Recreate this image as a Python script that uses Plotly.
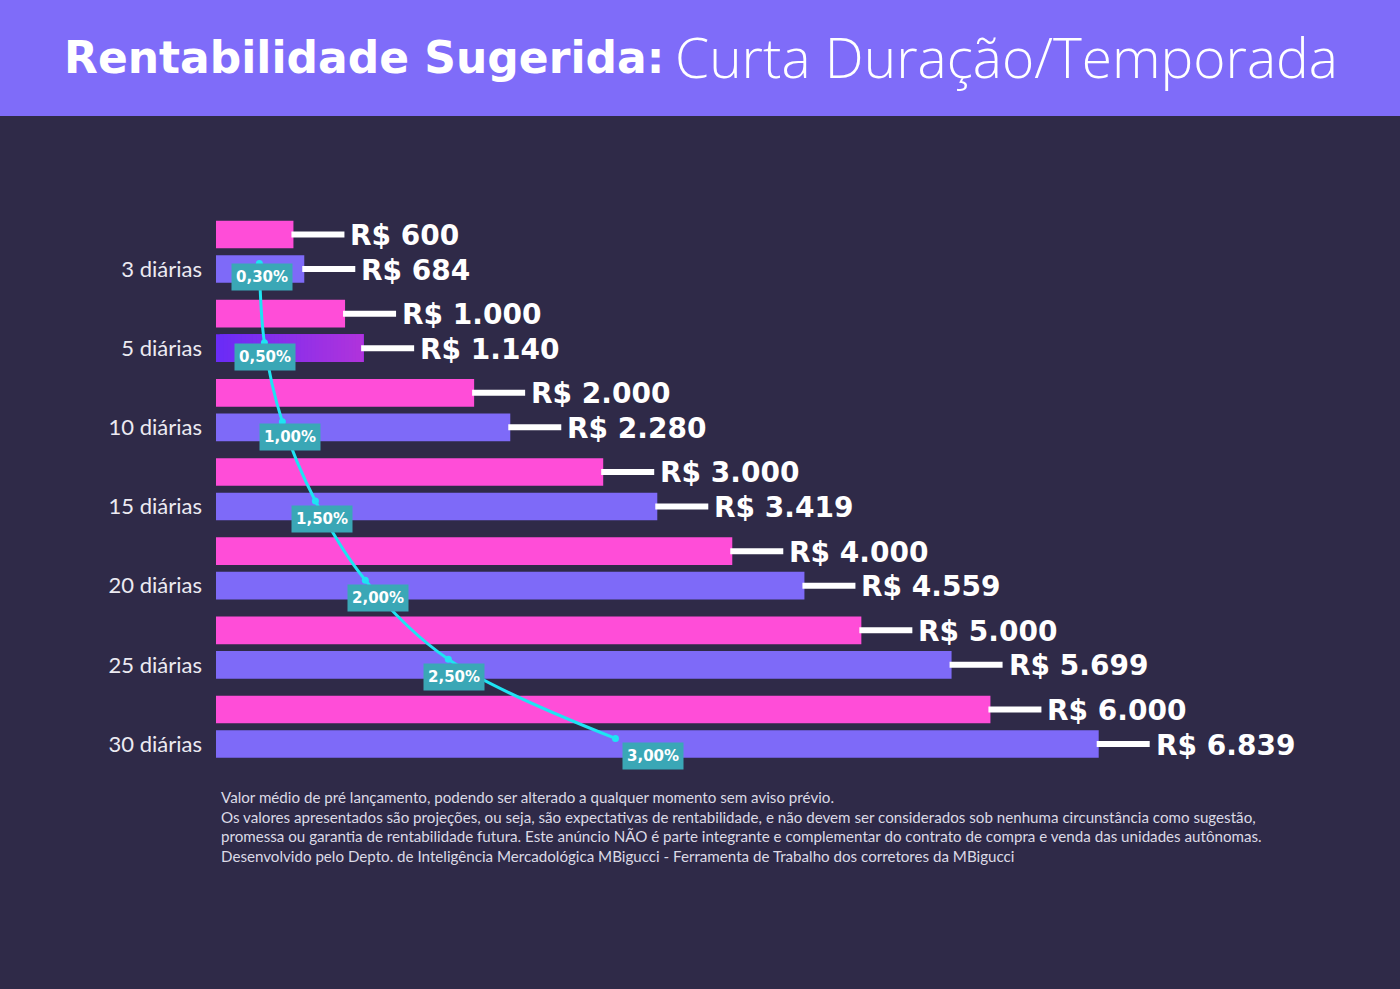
import plotly.graph_objects as go
import numpy as np

# ---------------- data ----------------
categorias = ["3 diárias", "5 diárias", "10 diárias", "15 diárias",
              "20 diárias", "25 diárias", "30 diárias"]
valor_base = [600, 1000, 2000, 3000, 4000, 5000, 6000]
valor_sugerido = [684, 1140, 2280, 3419, 4559, 5699, 6839]
percentuais = [0.30, 0.50, 1.00, 1.50, 2.00, 2.50, 3.00]
# horizontal position of the decorative percentage curve, read in R$ units
curva_x = [336, 375, 514, 770, 1157, 1800, 3095]

titulo_bold = "Rentabilidade Sugerida:"
titulo_light = "Curta Duração/Temporada"
rodape = [
    "Valor médio de pré lançamento, podendo ser alterado a qualquer momento sem aviso prévio.",
    "Os valores apresentados são projeções, ou seja, são expectativas de rentabilidade, e não devem ser considerados sob nenhuma circunstância como sugestão,",
    "promessa ou garantia de rentabilidade futura. Este anúncio NÃO é parte integrante e complementar do contrato de compra e venda das unidades autônomas.",
    "Desenvolvido pelo Depto. de Inteligência Mercadológica MBigucci - Ferramenta de Trabalho dos corretores da MBigucci",
]

# ---------------- style ----------------
W, H = 1400, 989
BG = "#2F2A48"
BAND = "#7F6CF9"
PINK = "#FF4DD8"
PURPLE = "#7E6AF8"
CYAN = "#1EE4F3"
TEAL = "#3AA7B6"
LEFT = 216
PX_PER_UNIT_X = 0.12907
PX_PER_UNIT_Y = 79.17
Y_TOP_VAL = -269 / PX_PER_UNIT_Y
Y_BOT_VAL = Y_TOP_VAL + H / PX_PER_UNIT_Y
PINK_OFF = 0.436
BAR_W = 0.35

idx = np.arange(len(categorias))

def brl(v):
    return "R$ " + f"{v:,}".replace(",", ".")

def pct(p):
    return f"{p:.2f}%".replace(".", ",")

def px_x(p):
    return (p - LEFT) / (W - LEFT)

def px_y(p):
    return 1 - p / H

fig = go.Figure()

# pink bars
fig.add_trace(go.Bar(
    y=idx - PINK_OFF, x=valor_base, orientation="h", width=BAR_W,
    marker=dict(color=PINK, line=dict(width=0)), hoverinfo="skip", showlegend=False,
))

# purple bars (the 5 diárias bar gets a gradient)
grad_i = 1
purple_colors = [PURPLE] * len(categorias)
purple_colors[grad_i] = "rgba(0,0,0,0)"
fig.add_trace(go.Bar(
    y=idx, x=valor_sugerido, orientation="h", width=BAR_W,
    marker=dict(color=purple_colors, line=dict(width=0)), hoverinfo="skip", showlegend=False,
))
nseg = 40
edges = np.linspace(0, valor_sugerido[grad_i], nseg + 1)
c0 = np.array([0x6A, 0x2C, 0xF7])
c1 = np.array([0xB0, 0x34, 0xDC])
for k in range(nseg):
    t = k / (nseg - 1)
    c = (c0 + (c1 - c0) * t).astype(int)
    fig.add_trace(go.Bar(
        y=[idx[grad_i]], x=[edges[-1] - edges[k]], base=[edges[k]],
        orientation="h", width=BAR_W,
        marker=dict(color=f"rgb({c[0]},{c[1]},{c[2]})", line=dict(width=0)),
        hoverinfo="skip", showlegend=False,
    ))

# connector lines + value labels
shapes = []
annotations = []
for vals, yy in ((valor_base, idx - PINK_OFF), (valor_sugerido, idx)):
    for v, y in zip(vals, yy):
        shapes.append(dict(type="line", xref="x", yref="y", xsizemode="pixel",
                           xanchor=v, x0=-2, x1=51, y0=y, y1=y,
                           line=dict(color="white", width=6)))
        annotations.append(dict(x=v, y=y, xref="x", yref="y", xanchor="left",
                                yanchor="middle", xshift=55, yshift=-1, showarrow=False,
                                text=f"<b>{brl(v)}</b>",
                                font=dict(family="DejaVu Sans", size=28, color="white")))

# percentage curve
curve_y = idx - 0.07
fig.add_trace(go.Scatter(
    x=curva_x, y=curve_y, mode="lines+markers",
    line=dict(color=CYAN, width=3, shape="spline", smoothing=1.0),
    marker=dict(color=CYAN, size=7), hoverinfo="skip", showlegend=False,
))
lbl_dx = [3, 1, 8, 7, 13, 6, 38]
lbl_dy = [-8, -9, -10, -12, -12, -12, -12]
for x, y, p, dx, dy in zip(curva_x, idx, percentuais, lbl_dx, lbl_dy):
    annotations.append(dict(x=x, y=y, xref="x", yref="y", xanchor="center", yanchor="middle",
                            xshift=dx, yshift=dy, showarrow=False, bgcolor=TEAL, borderpad=4,
                            text=f"<b>{pct(p)}</b>",
                            font=dict(family="DejaVu Sans", size=15, color="white")))

# title band
shapes.append(dict(type="rect", xref="paper", yref="paper", x0=-1, x1=2,
                   y0=px_y(116), y1=1.02, fillcolor=BAND, line=dict(width=0), layer="below"))
annotations.append(dict(xref="paper", yref="paper", x=px_x(666), y=px_y(58),
                        xanchor="right", yanchor="middle", showarrow=False,
                        text=f"<b>{titulo_bold}</b>",
                        font=dict(family="DejaVu Sans", size=44, color="white")))
annotations.append(dict(xref="paper", yref="paper", x=px_x(673), y=px_y(56),
                        xanchor="left", yanchor="middle", showarrow=False,
                        text=titulo_light,
                        font=dict(family="Open Sans", size=55, color="white", weight=300)))

# footnote
annotations.append(dict(xref="paper", yref="paper", x=px_x(219), y=px_y(786),
                        xanchor="left", yanchor="top", align="left", showarrow=False,
                        text="<br>".join(rodape),
                        font=dict(family="Lato", size=15.15, color="#DCDAE6")))

fig.update_layout(
    width=W, height=H,
    margin=dict(l=LEFT, r=0, t=0, b=0, pad=0),
    paper_bgcolor=BG, plot_bgcolor=BG,
    barmode="overlay",
    shapes=shapes, annotations=annotations,
    xaxis=dict(range=[0, (W - LEFT) / PX_PER_UNIT_X], visible=False, fixedrange=True),
    yaxis=dict(range=[Y_BOT_VAL, Y_TOP_VAL], tickvals=idx, ticktext=categorias,
               showgrid=False, zeroline=False, showline=False, ticks="",
               ticklabelstandoff=13, automargin=False, fixedrange=True,
               tickfont=dict(family="Lato", size=22, color="#ECEAF2")),
    showlegend=False,
)

fig.write_html("out.html", config={"displayModeBar": False},
               post_script="document.body.style.margin='0';")
